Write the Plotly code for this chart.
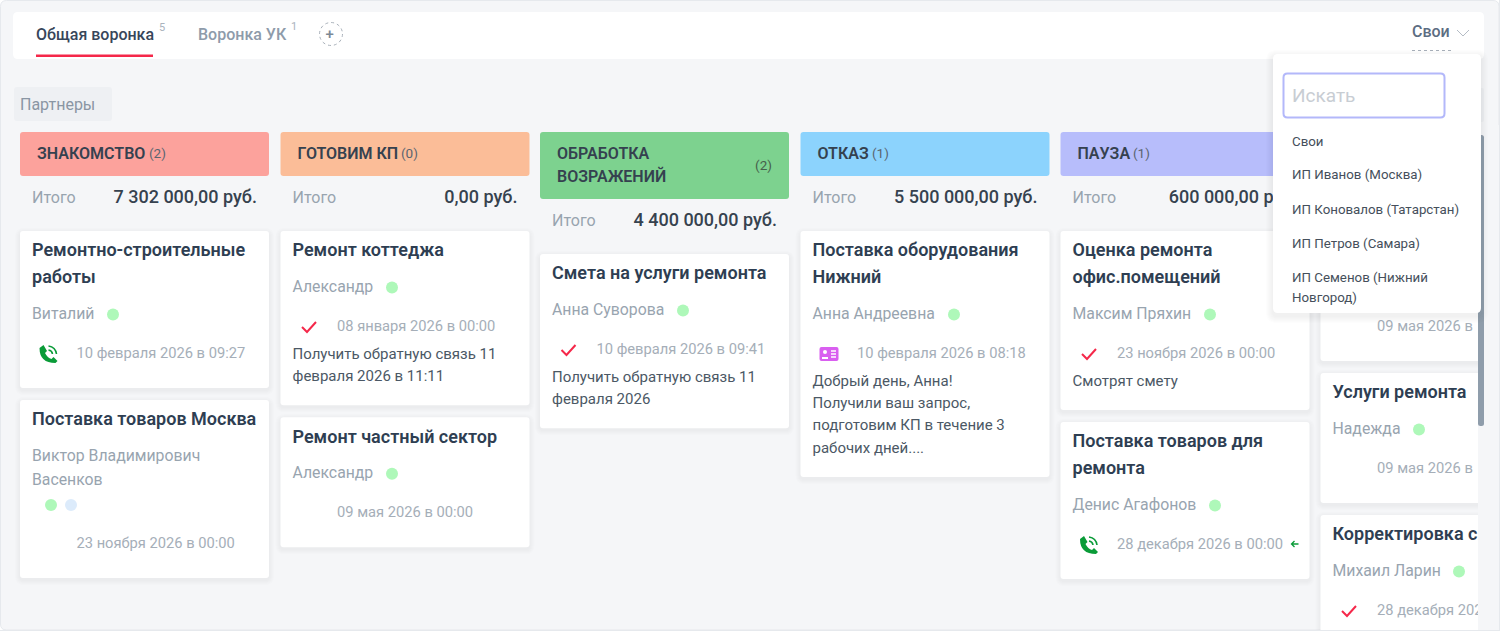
import plotly.graph_objects as go

# --- content ---
TABS = ["Общая воронка", "Воронка УК"]
TAB_COUNTS = ["5", "1"]
VIEW_LABEL = "Свои"
GROUP_LABEL = "Партнеры"
TOTAL_LABEL = "Итого"
SEARCH_HINT = "Искать"
OWNERS = ["Свои", "ИП Иванов (Москва)", "ИП Коновалов (Татарстан)", "ИП Петров (Самара)", "ИП Семенов (Нижний", "Новгород)"]

STAGES = [["ЗНАКОМСТВО"], ["ГОТОВИМ КП"], ["ОБРАБОТКА", "ВОЗРАЖЕНИЙ"], ["ОТКАЗ"], ["ПАУЗА"]]
STAGE_COUNTS = ["(2)", "(0)", "(2)", "(1)", "(1)"]
STAGE_TOTALS = ["7 302 000,00 руб.", "0,00 руб.", "4 400 000,00 руб.", "5 500 000,00 руб.", "600 000,00 руб."]

# the last column is cut by the scrollbar in the screenshot, only the visible part is known
CARD_TITLES = [
    [["Ремонтно-строительные", "работы"], ["Поставка товаров Москва"]],
    [["Ремонт коттеджа"], ["Ремонт частный сектор"]],
    [["Смета на услуги ремонта"]],
    [["Поставка оборудования", "Нижний"]],
    [["Оценка ремонта", "офис.помещений"], ["Поставка товаров для", "ремонта"]],
    [[""], ["Услуги ремонта"], ["Корректировка с"]],
]
CARD_PEOPLE = [
    [["Виталий"], ["Виктор Владимирович", "Васенков"]],
    [["Александр"], ["Александр"]],
    [["Анна Суворова"]],
    [["Анна Андреевна"]],
    [["Максим Пряхин"], ["Денис Агафонов"]],
    [[""], ["Надежда"], ["Михаил Ларин"]],
]
CARD_DATES = [
    ["10 февраля 2026 в 09:27", "23 ноября 2026 в 00:00"],
    ["08 января 2026 в 00:00", "09 мая 2026 в 00:00"],
    ["10 февраля 2026 в 09:41"],
    ["10 февраля 2026 в 08:18"],
    ["23 ноября 2026 в 00:00", "28 декабря 2026 в 00:00"],
    ["09 мая 2026 в", "09 мая 2026 в", "28 декабря 202"],
]
CARD_NOTES = [
    [[], []],
    [["Получить обратную связь 11", "февраля 2026 в 11:11"], []],
    [["Получить обратную связь 11", "февраля 2026"]],
    [["Добрый день, Анна!", "Получили ваш запрос,", "подготовим КП в течение 3", "рабочих дней...."]],
    [["Смотрят смету"], []],
    [[], [], []],
]
CARD_ICONS = [
    ["phone", None],
    ["check", None],
    ["check"],
    ["contact"],
    ["check", "phone"],
    [None, None, "check"],
]

# --- page layout, in screenshot pixels ---
W, H = 1500, 631
COLUMN_X = [20, 280.5, 540, 800.5, 1060.5, 1320.5]
COLUMN_W = 249
COUNT_X = [149, 401, 772, 872, 1133]
CARD_DOT_X = [[113, 51], [392, 392], [683], [954], [1210, 1215], [None, 1419, 1459]]

BG = "#f5f6f8"
DARK = "#2e3e52"
GREY = "#98a4af"
DATE_GREY = "#a5aeb8"
RED = "#f5284a"
GREEN = "#0a9b38"
HEADER_COLORS = ["#fca29c", "#fbbd98", "#7dd28f", "#8cd3fd", "#b7bdfb"]
DOT_GREEN = "#aef8b9"
DOT_BLUE = "#dcebfb"

shapes = []
texts = {}


def round_rect(x0, y0, x1, y1, r=4):
    return (f"M {x0+r} {y0} L {x1-r} {y0} Q {x1} {y0} {x1} {y0+r} L {x1} {y1-r} Q {x1} {y1} {x1-r} {y1} "
            f"L {x0+r} {y1} Q {x0} {y1} {x0} {y1-r} L {x0} {y0+r} Q {x0} {y0} {x0+r} {y0} Z")


def box(x0, y0, x1, y1, fill, r=4, layer="below", line=None, width=0):
    shapes.append(dict(type="path", path=round_rect(x0, y0, x1, y1, r), fillcolor=fill, layer=layer,
                       line=dict(color=line or fill, width=width)))


def shadow(x0, y0, x1, y1, layer="below", spread=5, alpha=0.012, drop=2):
    for i in range(spread, 0, -1):
        box(x0 - i, y0 - i + drop, x1 + i, y1 + i + drop, f"rgba(50,60,80,{alpha})", r=4 + i, layer=layer)


def icon_path(d, cx, cy, fill=None, line=None, width=0):
    # d is written around 0,0 so every icon can be moved by cx,cy
    res, is_x = [], True
    for tok in d.split():
        if tok.isalpha():
            res.append(tok)
            is_x = True
        else:
            res.append(str(float(tok) + (cx if is_x else cy)))
            is_x = not is_x
    shapes.append(dict(type="path", path=" ".join(res), fillcolor=fill or "rgba(0,0,0,0)", layer="above",
                       line=dict(color=line or "rgba(0,0,0,0)", width=width)))


def draw_check(cx, cy):
    icon_path("M -7 0 L -2 5 L 7 -5", cx, cy, line=RED, width=2)


def draw_phone(cx, cy):
    icon_path("M -9 -6 L -5 -9 L -1.5 -3 L -3.5 -1 Q -1 4 3 5 L 5 3 L 9 7 L 7 9 Q -9 9 -9 -6 Z", cx, cy, fill=GREEN)
    icon_path("M 0 -8 Q 7 -7 8 0", cx, cy, line=GREEN, width=1.6)
    icon_path("M 0 -4 Q 3.5 -3.5 4 0", cx, cy, line=GREEN, width=1.6)


def draw_contact(cx, cy):
    shapes.append(dict(type="path", path=round_rect(cx - 9.5, cy - 7, cx + 9.5, cy + 7, 2), fillcolor="#d95ff0",
                       layer="above", line=dict(width=0)))
    shapes.append(dict(type="circle", x0=cx - 6, x1=cx - 2, y0=cy - 4, y1=cy, fillcolor="white", layer="above",
                       line=dict(width=0)))
    icon_path("M -7 4 L -1 4", cx, cy, line="white", width=2)
    icon_path("M 2 -3 L 7 -3", cx, cy, line="white", width=1.5)
    icon_path("M 2 0 L 7 0", cx, cy, line="white", width=1.5)
    icon_path("M 2 3 L 7 3", cx, cy, line="white", width=1.5)


ICONS = {"check": draw_check, "phone": draw_phone, "contact": draw_contact}


def put(x, y, s, size, color, weight=400, side="middle right"):
    key = (size, color, weight, side)
    t = texts.setdefault(key, ([], [], []))
    t[0].append(x)
    t[1].append(y + size * 0.1)  # svg text sits a bit high
    t[2].append(s)


dots_x, dots_y, dots_c = [], [], []

# page frame and top bar
box(0.5, 0.5, W - 1, H - 1, BG, r=6, line="#e6e9ed", width=1)
box(13, 12, 1484, 59, "white", r=5)

put(36, 34, TABS[0], 16, "#37465a", 500)
shapes.append(dict(type="rect", x0=36, x1=153, y0=54.5, y1=57, fillcolor=RED, line=dict(width=0), layer="below"))
put(159, 27, TAB_COUNTS[0], 11, "#aab3bd")
put(198, 34, TABS[1], 16, "#8e9baa", 500)
put(291, 26, TAB_COUNTS[1], 11, "#aab3bd")
shapes.append(dict(type="circle", x0=319.5, x1=342.5, y0=22.5, y1=45.5, fillcolor="white", layer="below",
                   line=dict(color="#a9b1ba", width=1, dash="dot")))
put(325.5, 34, "+", 15, "#7d8996", 500)

put(1412, 31, VIEW_LABEL, 16, "#5c6d82", 500)
icon_path("M -6 -3 L 0 3 L 6 -3", 1463, 33, line="#b4bcc5", width=1)
shapes.append(dict(type="line", x0=1412, x1=1452, y0=50.5, y1=50.5, layer="below",
                   line=dict(color="#a7b0ba", width=1, dash="dot")))

box(14, 87, 112, 121, "#eef0f3", r=3)
put(20, 104, GROUP_LABEL, 16, "#8a96a3")

# stage columns
for c, x in enumerate(COLUMN_X):
    if c < len(STAGES):
        lines = STAGES[c]
        hdr_bottom = 132 + 44 + 23 * (len(lines) - 1)
        box(x, 132, x + COLUMN_W, hdr_bottom, HEADER_COLORS[c], r=3)
        for i, ln in enumerate(lines):
            put(x + 17, 153 + 23 * i, ln, 16, "#35414f", 600)
        if len(lines) == 1:
            put(COUNT_X[c], 153, STAGE_COUNTS[c], 13.5, "#5a6470")
        else:
            put(COUNT_X[c], 165, STAGE_COUNTS[c], 13.5, "#46604c", side="middle left")
        put(x + 12, hdr_bottom + 21, TOTAL_LABEL, 16, GREY)
        put(x + COLUMN_W - 12, hdr_bottom + 21, STAGE_TOTALS[c], 18, "#36424f", 500, "middle left")
        top = hdr_bottom + 55
    else:
        top = 231

    # card rows follow each other, same spacing in all of them
    for k, title in enumerate(CARD_TITLES[c]):
        y = top + 19
        rows = []
        for i, ln in enumerate(title):
            rows.append((x + 12, y + 27 * i, ln, 18, DARK, 600))
        y += 27 * (len(title) - 1) + 37
        people = CARD_PEOPLE[c][k]
        for i, ln in enumerate(people):
            rows.append((x + 12, y + 24 * i - 0.8, ln, 15.8, GREY, 400))
        y += 24 * (len(people) - 1)
        if len(people) > 1:
            y += 25
            dots_x += [CARD_DOT_X[c][k], CARD_DOT_X[c][k] + 20]
            dots_y += [y, y]
            dots_c += [DOT_GREEN, DOT_BLUE]
            y -= 1
        elif CARD_DOT_X[c][k] is not None:
            dots_x.append(CARD_DOT_X[c][k])
            dots_y.append(y + 0.5)
            dots_c.append(DOT_GREEN)
        y += 39
        rows.append((x + 56.5, y, CARD_DATES[c][k], 14.7, DATE_GREY, 400))
        icon = CARD_ICONS[c][k]
        notes = CARD_NOTES[c][k]
        icon_y = y + 1
        for i, ln in enumerate(notes):
            rows.append((x + 12, y + 27.5 + 22.3 * i, ln, 15, "#4b5865", 400))
        bottom = y + 28 + 22.3 * (len(notes) - 1) + 29 if notes else y + 35
        shadow(x, top, x + COLUMN_W, bottom)
        box(x, top, x + COLUMN_W, bottom, "white", r=3)
        for r in rows:
            put(*r)
        if icon:
            ICONS[icon](x + 28.5, icon_y)
        top = bottom + 12

# green arrow next to the last date of the pause column
icon_path("M 4 0 L -3 0 M 0 -3 L -3 0 L 0 3", 1294.5, 544, line=GREEN, width=1.3)

# the board is cut at the scrollbar edge
shapes.append(dict(type="rect", x0=1478, x1=W - 1, y0=125, y1=H - 1, fillcolor=BG, layer="above", line=dict(width=0)))
shapes.append(dict(type="line", x0=0, x1=W, y0=H - 0.5, y1=H - 0.5, layer="above", line=dict(color="#e6e9ed", width=1)))
shapes.append(dict(type="line", x0=W - 0.5, x1=W - 0.5, y0=0, y1=H, layer="above", line=dict(color="#e6e9ed", width=1)))
box(1478, 135, 1484, 426, "#8f9dab", r=2.5, layer="above")
box(1478, 88, 1484, 122, "#eef0f3", r=2, layer="above")

# owner dropdown sits on top of everything
shadow(1273, 54, 1481, 313, layer="above", spread=7, alpha=0.012, drop=3)
box(1273, 54, 1481, 313, "white", r=5, layer="above")
box(1283.5, 73.5, 1444.5, 117.5, "white", r=4, layer="above", line="#b3b8fa", width=2)

annotations = [dict(x=1290, y=95, text=SEARCH_HINT, showarrow=False, xanchor="left", yanchor="middle",
                    font=dict(family="Roboto", size=19, color="#c8cdd3"))]
OWNER_Y = [141, 174, 209, 243, 277, 297]
for name, oy in zip(OWNERS, OWNER_Y):
    annotations.append(dict(x=1290, y=oy, text=name, showarrow=False, xanchor="left", yanchor="middle",
                            font=dict(family="Roboto", size=13.3, color="#454f5b")))

fig = go.Figure()
fig.add_trace(go.Scatter(x=dots_x, y=dots_y, mode="markers", hoverinfo="skip", showlegend=False,
                         marker=dict(size=12, color=dots_c, line=dict(width=0))))
for (size, color, weight, side), (xs, ys, ss) in texts.items():
    fig.add_trace(go.Scatter(x=xs, y=ys, text=ss, mode="text", textposition=side, hoverinfo="skip", showlegend=False,
                             textfont=dict(family="Roboto", size=size, color=color, weight=weight)))

fig.update_layout(
    width=W,
    height=H,
    margin=dict(l=0, r=0, t=0, b=0),
    paper_bgcolor="white",
    plot_bgcolor="white",
    shapes=shapes,
    annotations=annotations,
    xaxis=dict(range=[0, W], visible=False, fixedrange=True),
    yaxis=dict(range=[H, 0], visible=False, fixedrange=True),
)

fig.write_html("out.html", config={"displayModeBar": False},
               post_script="document.body.style.margin='0';document.body.style.overflow='hidden';")
